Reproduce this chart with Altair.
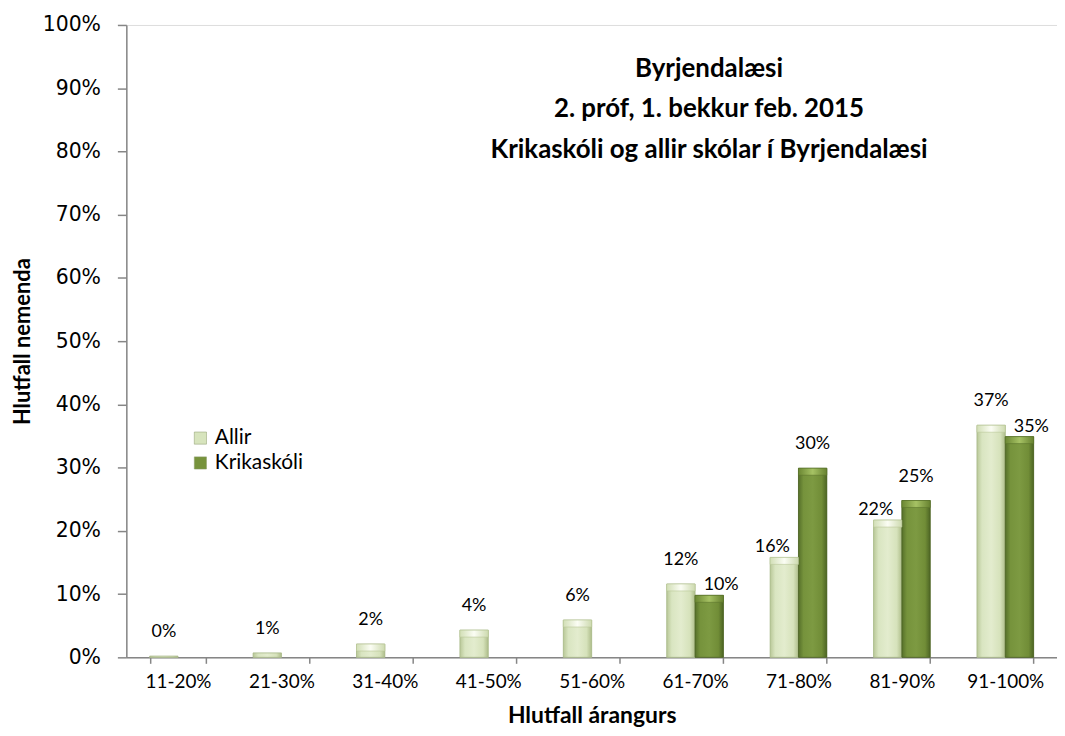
import altair as alt
import pandas as pd

categories = ["11-20%", "21-30%", "31-40%", "41-50%", "51-60%",
              "61-70%", "71-80%", "81-90%", "91-100%"]
allir = [0.002, 0.007, 0.021, 0.043, 0.059, 0.116, 0.158, 0.217, 0.367]
krikaskoli = [None, None, None, None, None, 0.098, 0.299, 0.248, 0.349]
series_names = ["Allir", "Krikaskóli"]
y_ticks = [0.0, 0.1, 0.2, 0.3, 0.4, 0.5, 0.6, 0.7, 0.8, 0.9, 1.0]
title_lines = ["Byrjendalæsi", "2. próf, 1. bekkur feb. 2015",
               "Krikaskóli og allir skólar í Byrjendalæsi"]
x_title = "Hlutfall árangurs"
y_title = "Hlutfall nemenda"

rows = []
for c, a, k in zip(categories, allir, krikaskoli):
    rows.append({"cat": c, "series": series_names[0], "value": a})
    if k is not None:
        rows.append({"cat": c, "series": series_names[1], "value": k})
df = pd.DataFrame(rows)

W, H = 936, 636
FONT = "Lato"

x_enc = alt.X("cat:N", sort=categories,
              scale=alt.Scale(paddingInner=0.452, paddingOuter=0.226),
              axis=alt.Axis(title=x_title, labelAngle=0, tickBand="extent",
                            labelFont=FONT, labelFontSize=19, labelColor="#000000",
                            labelPadding=9, tickSize=6, tickColor="#868686",
                            domainColor="#868686", domainWidth=1.5, tickWidth=1.5,
                            titleFont=FONT, titleFontSize=23, titleFontWeight="bold",
                            titleColor="#000000", titlePadding=14))
xoff_enc = alt.XOffset("series:N", scale=alt.Scale(domain=series_names,
                                                   paddingInner=0, paddingOuter=0))
y_enc = alt.Y("value:Q", scale=alt.Scale(domain=[0, 1], nice=False),
              axis=alt.Axis(title=y_title, values=y_ticks, format=".0%", grid=False,
                            labelFont="DejaVu Sans", labelFontSize=20.5,
                            labelColor="#000000", labelPadding=17, tickSize=9,
                            tickColor="#868686", domainColor="#868686",
                            domainWidth=1.5, tickWidth=1.5,
                            titleFont=FONT, titleFontSize=22, titleFontWeight="bold",
                            titleColor="#000000", titleX=-104, titleY=H / 2,
                            titleAngle=270, titleAlign="center",
                            titleBaseline="middle"))

base = alt.Chart(df).encode(x=x_enc, xOffset=xoff_enc, y=y_enc)

legend_bars = base.mark_bar().encode(
    color=alt.Color("series:N",
                    scale=alt.Scale(domain=series_names, range=["#d7e4bd", "#77933c"]),
                    legend=alt.Legend(title=None, orient="none", legendX=64, legendY=405,
                                      symbolType="square", symbolSize=150,
                                      symbolStrokeColor="#8a9a6a", symbolStrokeWidth=0.5,
                                      labelFont=FONT, labelFontSize=21,
                                      labelColor="#000000", rowPadding=3, labelOffset=4))
)

grad_allir = alt.Gradient(gradient="linear", x1=0, x2=1, y1=0, y2=0, stops=[
    alt.GradientStop(color="#b9c898", offset=0),
    alt.GradientStop(color="#d9e5c1", offset=0.18),
    alt.GradientStop(color="#e3ecce", offset=0.5),
    alt.GradientStop(color="#d6e2bb", offset=0.82),
    alt.GradientStop(color="#aebd8a", offset=1),
])
grad_krik = alt.Gradient(gradient="linear", x1=0, x2=1, y1=0, y2=0, stops=[
    alt.GradientStop(color="#56702a", offset=0),
    alt.GradientStop(color="#76933c", offset=0.18),
    alt.GradientStop(color="#7d9a42", offset=0.5),
    alt.GradientStop(color="#718d37", offset=0.82),
    alt.GradientStop(color="#4d6524", offset=1),
])
grad_allir_top = alt.Gradient(gradient="linear", x1=0, x2=1, y1=0, y2=0, stops=[
    alt.GradientStop(color="#d2dfb6", offset=0),
    alt.GradientStop(color="#fbfdf4", offset=0.5),
    alt.GradientStop(color="#cddaaf", offset=1),
])
grad_krik_top = alt.Gradient(gradient="linear", x1=0, x2=1, y1=0, y2=0, stops=[
    alt.GradientStop(color="#6b8733", offset=0),
    alt.GradientStop(color="#a6c264", offset=0.5),
    alt.GradientStop(color="#678230", offset=1),
])

bars_allir = base.transform_filter(alt.datum.series == series_names[0]).mark_bar(
    fill=grad_allir, stroke="#a8b888", strokeWidth=0.8)
bars_krik = base.transform_filter(alt.datum.series == series_names[1]).mark_bar(
    fill=grad_krik, stroke="#4a6122", strokeWidth=0.8)

top_base = base.transform_filter("datum.value > 0.015").transform_calculate(
    lo="datum.value - 0.011").encode(y2=alt.Y2("lo:Q"))
tops_allir = top_base.transform_filter(alt.datum.series == series_names[0]).mark_bar(
    fill=grad_allir_top, stroke="#b9c898", strokeWidth=0.6)
tops_krik = top_base.transform_filter(alt.datum.series == series_names[1]).mark_bar(
    fill=grad_krik_top, stroke="#5b752c", strokeWidth=0.6)

lab = base.transform_joinaggregate(
    mx="max(value)", n="count()", groupby=["cat"]
).transform_calculate(
    short="datum.n == 2 && datum.value < datum.mx"
).encode(text=alt.Text("value:Q", format=".0%"))

txt_kw = dict(font=FONT, fontSize=18, color="#000000", baseline="middle", align="center")
labels_normal = lab.transform_filter("!datum.short").mark_text(dy=-24, **txt_kw)
labels_short_a = lab.transform_filter(
    f"datum.short && datum.series == '{series_names[0]}'").mark_text(dy=-10, dx=-12, **txt_kw)
labels_short_k = lab.transform_filter(
    f"datum.short && datum.series == '{series_names[1]}'").mark_text(dy=-10, dx=12, **txt_kw)

title_df = pd.DataFrame({"t": [title_lines]})
title_layer = alt.Chart(title_df).mark_text(
    font=FONT, fontSize=26, fontWeight="bold", color="#000000",
    align="center", baseline="alphabetic", lineHeight=41
).encode(text="t", x=alt.value(586), y=alt.value(52))

chart = alt.layer(
    legend_bars, bars_allir, bars_krik, tops_allir, tops_krik,
    labels_normal, labels_short_a, labels_short_k, title_layer
).properties(
    width=W, height=H,
    autosize=alt.AutoSizeParams(type="none"),
    padding={"left": 119, "top": 15, "right": 0, "bottom": 69},
).configure_view(stroke=None).configure(background="#ffffff")

chart.save("out.html", embed_options={"renderer": "svg", "actions": False})
